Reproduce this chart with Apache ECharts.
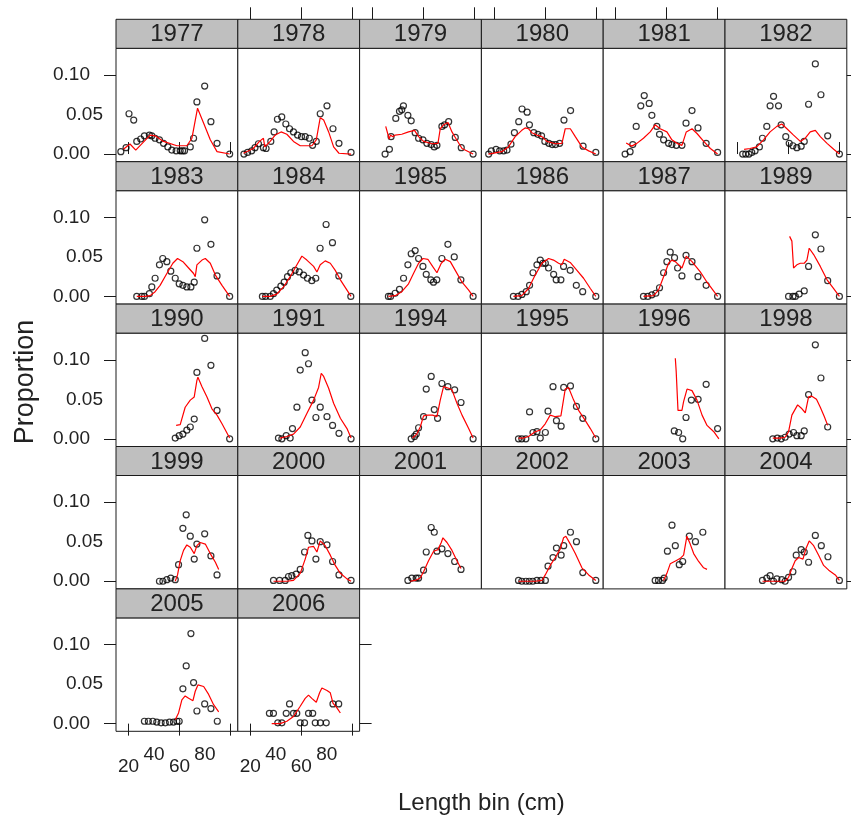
<!DOCTYPE html>
<html><head><meta charset="utf-8">
<script src="https://cdn.jsdelivr.net/npm/echarts@6/dist/echarts.min.js"></script>
<style>html,body{margin:0;padding:0;background:#fff}#c{width:851px;height:820px}</style>
</head><body><div id="c"></div>
<script>
const years = ['1977','1978','1979','1980','1981','1982','1983','1984','1985','1986','1987','1989','1990','1991','1994','1995','1996','1998','1999','2000','2001','2002','2003','2004','2005','2006'];

const obs_1977 = [[14,0.003],[18.1,0.008],[20.4,0.051],[24.1,0.043],[26.5,0.016],[29.6,0.019],[32.5,0.023],[36.4,0.024],[38.3,0.023],[40.9,0.020],[44.3,0.018],[47.5,0.0135],[50.9,0.009],[54,0.005],[57.4,0.004],[60.6,0.004],[62.5,0.004],[64,0.004],[68.5,0.009],[71.1,0.020],[73.7,0.066],[79.8,0.086],[84.7,0.041],[89.5,0.0135],[99.4,0]];
const fit_1977 = [[16,0.006],[21.2,0.0127],[25.7,0.005],[37,0.024],[40.9,0.023],[47.5,0.016],[58,0.0105],[65.8,0.0105],[69.8,0.020],[74.2,0.058],[79,0.039],[84.2,0.018],[89.5,0.003],[99.4,0]];
const obs_1978 = [[15,0],[17.9,0.002],[21.1,0.004],[23.7,0.008],[26.4,0.013],[30.3,0.008],[32.4,0.007],[36.1,0.016],[38.7,0.028],[41.3,0.044],[44.7,0.047],[47.9,0.038],[50.8,0.032],[53.9,0.028],[57.1,0.024],[60.2,0.022],[63.1,0.022],[66.3,0.020],[68.9,0.011],[71.8,0.016],[74.9,0.051],[80.2,0.061],[84.9,0.032],[89.6,0.0135],[99.1,0.002]];
const fit_1978 = [[14.6,0.001],[22.4,0.007],[27.2,0.016],[30.3,0.020],[31.4,0.009],[35.6,0.016],[39.5,0.024],[44.2,0.028],[48.7,0.025],[53.9,0.016],[59.2,0.0105],[68.4,0.0105],[71.8,0.018],[74.9,0.046],[77.6,0.043],[81.5,0.028],[85.4,0.009],[89.6,0.001],[99.1,0]];
const obs_1979 = [[30.2,0],[33.6,0.006],[34.9,0.022],[38.6,0.045],[41.5,0.054],[43.3,0.056],[44.6,0.061],[48.1,0.049],[50.7,0.042],[53.8,0.027],[56.5,0.020],[59.9,0.018],[63,0.0135],[66.4,0.012],[68.8,0.009],[70.9,0.011],[74.8,0.035],[76.9,0.037],[80.1,0.041],[85.3,0.021],[90,0.008],[99.3,0]];
const fit_1979 = [[30.7,0.035],[33.4,0.019],[34.4,0.024],[36.3,0.022],[38.1,0.024],[43.3,0.025],[48.6,0.028],[53.3,0.030],[56.5,0.022],[60.4,0.016],[67,0.013],[71.7,0.0135],[73.5,0.032],[76.1,0.037],[79.6,0.040],[82.7,0.028],[85.3,0.021],[90.6,0.007],[99.3,0]];
const obs_1980 = [[15.9,0],[18,0.004],[21.7,0.006],[24.5,0.004],[27.7,0.004],[30.3,0.005],[33.4,0.0125],[36.1,0.027],[39.5,0.041],[42.1,0.057],[46.1,0.053],[47.9,0.037],[51.3,0.027],[54.5,0.025],[57.4,0.023],[60,0.016],[63.1,0.0135],[65.8,0.012],[68.4,0.012],[71.6,0.0135],[75,0.043],[80.2,0.055],[90,0.010],[100,0.002]];
const fit_1980 = [[15.7,0],[26.2,0.003],[31.4,0.009],[36.7,0.022],[41.9,0.030],[44.5,0.033],[47.2,0.032],[49.8,0.027],[53.7,0.024],[57.7,0.022],[61.6,0.016],[68.2,0.013],[73.4,0.0135],[76,0.032],[80,0.032],[83.9,0.022],[89.1,0.009],[94.4,0.004],[100,0]];
const obs_1981 = [[27.4,0],[31.3,0.003],[33.4,0.012],[36.1,0.035],[39.7,0.061],[42.4,0.074],[46.3,0.064],[48.4,0.049],[52.3,0.035],[54.4,0.025],[57.6,0.018],[61.5,0.0135],[64.1,0.012],[67.6,0.011],[72,0.011],[75.2,0.039],[79.9,0.055],[84.6,0.033],[91,0.0135],[100,0.002]];
const fit_1981 = [[28.2,0.014],[32.6,0.010],[36.6,0.0135],[41.8,0.020],[47.1,0.028],[51,0.037],[54.9,0.032],[60.2,0.028],[64.1,0.018],[68.1,0.0135],[72,0.011],[75.4,0.028],[79.9,0.032],[83.8,0.026],[89.1,0.016],[94.3,0.007],[100,0]];
const obs_1982 = [[24.1,0],[26.5,0],[29,0],[31.2,0.002],[33.8,0.004],[37.2,0.009],[39.6,0.020],[43,0.035],[45.6,0.061],[48.3,0.073],[52.2,0.061],[54.3,0.037],[57.9,0.022],[60.6,0.0135],[63.5,0.0105],[66.6,0.008],[70,0.010],[72.4,0.016],[75.8,0.063],[81.1,0.114],[85.5,0.075],[90.8,0.023],[100,0]];
const fit_1982 = [[25.2,0.006],[29.9,0.007],[35.1,0.009],[40.4,0.018],[45.6,0.028],[50.9,0.035],[54.8,0.038],[58.8,0.032],[64,0.024],[69.3,0.016],[73.2,0.020],[77.1,0.028],[81.1,0.030],[85,0.022],[90.3,0.0135],[95.5,0.006],[100,0]];
const obs_1983 = [[26.5,0],[30.4,0],[32.5,0],[36.4,0.0035],[38.3,0.012],[40.9,0.023],[44.3,0.040],[46.9,0.048],[50.1,0.044],[53.2,0.032],[56.7,0.023],[59.8,0.016],[62.7,0.014],[65.8,0.012],[69,0.012],[71.6,0.018],[73.7,0.061],[79.8,0.097],[84.7,0.066],[89.5,0.026],[99.4,0]];
const fit_1983 = [[26.5,0],[33,0],[37,0.001],[40.9,0.006],[44.8,0.014],[50.1,0.029],[54.8,0.042],[58.5,0.048],[62.7,0.044],[67.2,0.036],[71.1,0.029],[72.4,0.025],[73.7,0.040],[77.7,0.046],[80.3,0.048],[84.2,0.042],[88.2,0.027],[93.4,0.014],[99.4,0]];
const obs_1984 = [[29.5,0],[32,0],[35.6,0],[38.2,0.0035],[40.8,0.008],[44,0.013],[46.6,0.018],[49.2,0.025],[51.8,0.030],[55.2,0.033],[58.4,0.031],[61.8,0.027],[64.9,0.023],[68.3,0.020],[71.4,0.023],[74.8,0.061],[79.5,0.091],[84.5,0.068],[89.5,0.026],[98.9,0]];
const fit_1984 = [[29.5,0],[35.6,0],[40.8,0.003],[46.1,0.012],[51.3,0.025],[56.6,0.040],[60.5,0.051],[64.4,0.046],[69.7,0.038],[72.3,0.031],[74.9,0.040],[78.8,0.045],[82.8,0.042],[86.7,0.033],[90.7,0.021],[95.9,0.008],[99.1,0]];
const obs_1985 = [[32.8,0],[34.5,0],[38.1,0.004],[41.5,0.009],[44.7,0.023],[48.1,0.040],[50.7,0.054],[53.8,0.058],[56.5,0.048],[59.9,0.038],[62.5,0.028],[66.1,0.021],[68.2,0.018],[70.8,0.021],[74.8,0.048],[79.5,0.066],[84.5,0.050],[89.7,0.021],[99.3,0]];
const fit_1985 = [[32.8,0],[38.1,0.001],[43.3,0.006],[48.6,0.016],[52.5,0.029],[56.5,0.042],[59.9,0.048],[63.8,0.047],[67.5,0.038],[70.9,0.030],[74.3,0.042],[77.4,0.047],[81.4,0.044],[85.3,0.033],[90.6,0.018],[95.8,0.008],[99.3,0]];
const obs_1986 = [[35.3,0],[39,0],[42,0.0025],[45.4,0.006],[48,0.014],[50.7,0.030],[53.8,0.040],[56.4,0.046],[58.5,0.042],[60.4,0.042],[62.9,0.036],[66.9,0.028],[68.9,0.021],[72.6,0.021],[74.7,0.038],[79.9,0.033],[84.7,0.014],[89.7,0.006],[100,0]];
const fit_1986 = [[35.3,0],[41.9,0.001],[47.2,0.010],[52.4,0.027],[57.7,0.042],[62.9,0.048],[66.8,0.046],[70.8,0.042],[73.4,0.040],[75.2,0.047],[79.9,0.043],[85.2,0.033],[90.4,0.023],[95.7,0.010],[100,0]];
const obs_1987 = [[41.8,0],[45.2,0],[48.4,0.002],[51.5,0.004],[54.4,0.011],[57.6,0.030],[60.2,0.044],[62.8,0.056],[66.2,0.049],[68.6,0.036],[72,0.026],[75.2,0.052],[79.9,0.044],[84.6,0.025],[91,0.014],[100,0]];
const fit_1987 = [[41.8,0],[49.7,0.001],[53.6,0.008],[57.6,0.025],[61.5,0.042],[64.1,0.046],[66.8,0.044],[72,0.036],[75.4,0.051],[79.9,0.044],[86.4,0.031],[91.7,0.018],[100,0]];
const obs_1989 = [[60.1,0],[63.5,0],[65.4,0],[68.4,0.003],[72.4,0.007],[75.8,0.038],[81.1,0.078],[85.5,0.060],[90.8,0.020],[100,0]];
const fit_1989 = [[60.9,0.076],[62.7,0.070],[64,0.036],[66.6,0.040],[69.3,0.042],[72.4,0.042],[74.5,0.046],[76.3,0.061],[79.8,0.053],[85,0.038],[90.3,0.021],[95.5,0.010],[100,0]];
const obs_1990 = [[56.7,0.001],[59.8,0.004],[62.7,0.006],[65.8,0.011],[68.5,0.015],[71.6,0.025],[73.7,0.084],[79.8,0.127],[84.7,0.093],[89.5,0.036],[99.4,0]];
const fit_1990 = [[57.4,0.017],[60.6,0.018],[64.5,0.040],[68.5,0.049],[71.6,0.053],[73.7,0.074],[74.5,0.078],[77.7,0.066],[81.6,0.053],[85.5,0.038],[89.5,0.030],[93.4,0.019],[99.4,0.001]];
const obs_1991 = [[42.1,0.001],[44.8,0],[48.2,0.004],[51.3,0.001],[53.1,0.013],[56.6,0.040],[59.2,0.087],[63.1,0.109],[65.7,0.095],[68.4,0.049],[71.5,0.027],[74.9,0.040],[80.2,0.028],[84.6,0.017],[89.6,0.007],[99.1,0]];
const fit_1991 = [[43.4,0.001],[48.7,0.003],[53.9,0.006],[59.2,0.015],[64.4,0.032],[69.7,0.049],[73.6,0.065],[75.7,0.083],[77.6,0.079],[81.5,0.064],[85.4,0.045],[90.7,0.026],[95.9,0.013],[99.1,0.001]];
const obs_1994 = [[50.7,0],[53.3,0.003],[54.7,0.006],[56.5,0.014],[60.4,0.028],[62.5,0.063],[66.4,0.079],[68.8,0.037],[71.4,0.026],[74.8,0.070],[79.5,0.066],[84.8,0.062],[89.8,0.046],[99.3,0]];
const fit_1994 = [[51.7,0.001],[55.1,0.006],[57.8,0.015],[60.4,0.029],[63.8,0.030],[67.5,0.030],[70.9,0.028],[73.5,0.049],[76.1,0.066],[80.1,0.064],[82.7,0.062],[86.6,0.045],[90.6,0.030],[95.8,0.013],[99.3,0.001]];
const obs_1995 = [[39.3,0],[41.9,0],[45.1,0],[48,0.034],[50.7,0.008],[53.8,0.009],[56.4,0.001],[60.4,0.008],[62.5,0.035],[66.4,0.066],[69.1,0.023],[72.8,0.016],[74.8,0.065],[80.1,0.067],[84.8,0.041],[89.8,0.026],[100,0]];
const fit_1995 = [[39.3,0.001],[43.2,0.001],[47.2,0.003],[52.4,0.009],[56.3,0.011],[60.3,0.019],[64.2,0.030],[68.2,0.028],[72.6,0.029],[76,0.063],[78.6,0.065],[82.6,0.049],[86.5,0.036],[91.8,0.023],[95.7,0.013],[100,0.001]];
const obs_1996 = [[66,0.010],[69.4,0.008],[72.6,0],[75.2,0.027],[79.4,0.049],[84.7,0.050],[91,0.069],[100,0.013]];
const fit_1996 = [[66.8,0.102],[67.5,0.085],[68.9,0.036],[72,0.036],[73.3,0.047],[76,0.063],[79.9,0.061],[83.8,0.049],[87.8,0.030],[91.7,0.017],[97,0.009],[101,0]];
const obs_1998 = [[47.7,0],[51.3,0.001],[54.3,0],[57.4,0.002],[60.6,0.006],[64,0.008],[66.6,0.004],[70,0.004],[72.4,0.010],[75.8,0.056],[81.1,0.119],[85.5,0.077],[90.8,0.015]];
const fit_1998 = [[47.7,0.001],[53.5,0.001],[57.4,0.002],[60.1,0.009],[62.7,0.030],[67.2,0.043],[70.6,0.038],[73.2,0.033],[75.8,0.053],[78.4,0.054],[82,0.050],[85,0.040],[88.2,0.028],[90.8,0.017]];
const obs_1999 = [[44.3,0],[47,0],[50.1,0.002],[53.2,0.004],[56.7,0.002],[59.3,0.021],[62.7,0.067],[65.3,0.084],[68.5,0.057],[71.6,0.028],[73.7,0.047],[79.8,0.060],[84.7,0.032],[89.5,0.008]];
const fit_1999 = [[56.7,0],[58.5,0.008],[60.6,0.026],[63.2,0.039],[65.8,0.046],[68.5,0.043],[71.6,0.035],[73.7,0.045],[76.3,0.049],[80.3,0.047],[84.2,0.035],[88.2,0.024],[90.8,0.015]];
const obs_2000 = [[38.2,0.001],[43,0.001],[47.4,0.001],[50,0.006],[52.6,0.007],[56,0.009],[59.2,0.015],[62.6,0.037],[65.2,0.058],[68.4,0.051],[71.5,0.028],[74.9,0.050],[80.2,0.046],[84.6,0.025],[89.6,0.008],[99.1,0.001]];
const fit_2000 = [[38.2,0],[48.7,0],[53.9,0.001],[59.2,0.010],[63.1,0.028],[65.7,0.043],[69.7,0.044],[72.3,0.037],[74.9,0.051],[78.8,0.045],[82.8,0.033],[86.7,0.020],[90.7,0.010],[95.9,0.003],[99.1,0]];
const obs_2001 = [[48.1,0.001],[51.2,0.004],[54.6,0.004],[56.5,0.004],[60.4,0.014],[62.5,0.037],[66.4,0.068],[68.8,0.062],[70.9,0.038],[74.8,0.041],[79.5,0.035],[84.8,0.025],[89.8,0.015]];
const fit_2001 = [[49.9,0],[53.8,0.001],[57.8,0.004],[60.4,0.012],[64.3,0.026],[68.3,0.038],[71.7,0.040],[74.3,0.049],[75.6,0.055],[78.8,0.049],[82.7,0.039],[86.6,0.026],[89.8,0.016]];
const obs_2002 = [[39.3,0.001],[41.9,0],[45.1,0],[47.8,0],[50.5,0],[53.8,0.001],[56.9,0.001],[60.4,0.001],[62.5,0.019],[66.4,0.030],[69.1,0.042],[72.8,0.033],[74.8,0.045],[80.1,0.062],[84.8,0.050],[89.8,0.011],[100,0.001]];
const fit_2002 = [[39.3,0],[52.4,0],[57.7,0.001],[60.3,0.008],[64.2,0.020],[68.2,0.030],[72.1,0.041],[74.7,0.055],[76.5,0.057],[80,0.047],[83.9,0.035],[89.1,0.017],[94.4,0.008],[100,0.001]];
const obs_2003 = [[51,0.001],[53.6,0.001],[56.7,0.001],[58,0.004],[60.6,0.038],[64.2,0.071],[66.8,0.045],[69.9,0.021],[72.6,0.025],[77.8,0.057],[82.6,0.050],[88.4,0.062]];
const fit_2003 = [[57.5,0.001],[60.2,0.010],[62.8,0.022],[67.3,0.026],[70.7,0.029],[73.3,0.033],[74.6,0.045],[75.9,0.057],[78.5,0.047],[81.2,0.035],[85.1,0.025],[89,0.017],[91.7,0.015]];
const obs_2004 = [[39.6,0.001],[43,0.004],[45.6,0.007],[48.3,0],[50.9,0.003],[54.8,0.002],[57.4,0],[60.1,0.005],[63.5,0.012],[66.1,0.033],[70,0.040],[72.4,0.037],[75.8,0.024],[81.1,0.058],[85.8,0.045],[91,0.031],[100,0.001]];
const fit_2004 = [[39.6,0],[52.2,0],[57.4,0],[60.1,0.005],[62.7,0.016],[65.3,0.026],[68,0.030],[71.4,0.028],[73.7,0.041],[76.3,0.051],[79.8,0.045],[83.7,0.033],[87.6,0.020],[91.6,0.014],[96.8,0.008],[100,0.001]];
const obs_2005 = [[32.5,0.003],[35.6,0.003],[39.1,0.003],[42.2,0.002],[45.6,0.001],[48.9,0.001],[52.2,0.002],[55.3,0.002],[58,0.003],[59.8,0.003],[62.7,0.044],[65.3,0.073],[69,0.114],[71.1,0.052],[73.7,0.016],[79.8,0.025],[84.7,0.019],[89.7,0.003]];
const fit_2005 = [[56.7,0.005],[59.3,0.0135],[61.9,0.030],[64.5,0.035],[67.2,0.032],[70.6,0.029],[72.4,0.041],[74.5,0.049],[79,0.047],[82.9,0.037],[86.8,0.024],[90.8,0.015]];
const obs_2006 = [[35,0.013],[38.2,0.013],[41.6,0.001],[44.8,0.001],[48.2,0.013],[50.8,0.025],[53.9,0.013],[56.5,0.013],[59.2,0.001],[62.6,0.001],[65.7,0.013],[69,0.013],[71,0.001],[75,0.001],[79.6,0.001],[84.9,0.025],[89.4,0.025]];
const fit_2006 = [[36.8,0],[43.4,0],[48.7,0.003],[53.9,0.009],[59.2,0.022],[63.1,0.032],[65.7,0.036],[68.3,0.032],[71.8,0.027],[74.4,0.039],[76.2,0.045],[80.2,0.042],[82.8,0.039],[84.9,0.026],[88,0.020],[90.7,0.0135]];

const obsData = [obs_1977,obs_1978,obs_1979,obs_1980,obs_1981,obs_1982,obs_1983,obs_1984,obs_1985,obs_1986,obs_1987,obs_1989,obs_1990,obs_1991,obs_1994,obs_1995,obs_1996,obs_1998,obs_1999,obs_2000,obs_2001,obs_2002,obs_2003,obs_2004,obs_2005,obs_2006];
const fitData = [fit_1977,fit_1978,fit_1979,fit_1980,fit_1981,fit_1982,fit_1983,fit_1984,fit_1985,fit_1986,fit_1987,fit_1989,fit_1990,fit_1991,fit_1994,fit_1995,fit_1996,fit_1998,fit_1999,fit_2000,fit_2001,fit_2002,fit_2003,fit_2004,fit_2005,fit_2006];

const xTicks = [20, 60, 100];
const xLabelsLow = [20, 60];
const xLabelsHigh = [40, 80];
const yTicks = [0, 0.1];
const yLabelsFar = [0, 0.1];
const yLabelsNear = [0.05];

// layout
const xMin = 10.2, xMax = 105.8, yMin = -0.0097, yMax = 0.1338;
const NCOL = 6, L0 = 116, W = 121.8, T0 = 19.3, RH = 142.4, SH = 29, BH = 113.4;
const FONT = '"Liberation Sans", Arial, sans-serif';
const INK = '#222', FRAME = '#1a1a1a';
const lab = {fontFamily: FONT, fontSize: 19, color: INK};

const chart = echarts.init(document.getElementById('c'), null, {renderer: 'canvas'});
const grid = [], xAxis = [], yAxis = [], series = [], graphic = [];
const nRows = Math.ceil(years.length / NCOL);

years.forEach((yr, i) => {
  const col = i % NCOL, row = Math.floor(i / NCOL);
  const left = L0 + col * W, stripTop = T0 + row * RH, top = stripTop + SH;
  const isBottom = row === nRows - 1;
  const isTop = row === 0;
  const isLeft = col === 0;
  const isRight = col === NCOL - 1 || i === years.length - 1;
  grid.push({left, top, width: W, height: BH, show: true, borderColor: FRAME, borderWidth: 1, backgroundColor: '#fff'});
  const baseX = {type: 'value', gridIndex: i, min: xMin, max: xMax, splitLine: {show: false}, axisLine: {show: false}};
  const baseY = {type: 'value', gridIndex: i, min: yMin, max: yMax, splitLine: {show: false}, axisLine: {show: false}};
  const xi = xAxis.length;
  xAxis.push(Object.assign({}, baseX, {position: 'bottom',
    axisTick: {show: isBottom, customValues: xTicks, length: 12, lineStyle: {color: FRAME}},
    axisLabel: Object.assign({show: isBottom, customValues: xLabelsLow, margin: 26}, lab)}));
  if (isBottom) xAxis.push(Object.assign({}, baseX, {position: 'bottom',
    axisTick: {show: false}, axisLabel: Object.assign({show: true, customValues: xLabelsHigh, margin: 14}, lab)}));
  if (isTop) xAxis.push(Object.assign({}, baseX, {position: 'top', offset: SH,
    axisTick: {show: true, customValues: xTicks, length: 12, lineStyle: {color: FRAME}}, axisLabel: {show: false}}));
  const yi = yAxis.length;
  yAxis.push(Object.assign({}, baseY, {position: 'left',
    axisTick: {show: isLeft, customValues: yTicks, length: 12, lineStyle: {color: FRAME}},
    axisLabel: Object.assign({show: isLeft, customValues: yLabelsFar, margin: 26, formatter: v => v.toFixed(2)}, lab)}));
  if (isLeft) yAxis.push(Object.assign({}, baseY, {position: 'left',
    axisTick: {show: false}, axisLabel: Object.assign({show: true, customValues: yLabelsNear, margin: 13, formatter: v => v.toFixed(2)}, lab)}));
  if (isRight) yAxis.push(Object.assign({}, baseY, {position: 'right',
    axisTick: {show: true, customValues: yTicks, length: 12, lineStyle: {color: FRAME}}, axisLabel: {show: false}}));

  series.push({type: 'scatter', xAxisIndex: xi, yAxisIndex: yi, data: obsData[i], symbol: 'circle', symbolSize: 6,
    itemStyle: {color: 'rgba(255,255,255,0)', borderColor: '#000', borderWidth: 1.2}, silent: true, z: 2});
  series.push({type: 'line', xAxisIndex: xi, yAxisIndex: yi, data: fitData[i], showSymbol: false, symbol: 'none',
    lineStyle: {color: '#ff0000', width: 1.2}, silent: true, z: 3});

  graphic.push({type: 'rect', shape: {x: left, y: stripTop, width: W, height: SH},
    style: {fill: '#bfbfbf', stroke: FRAME, lineWidth: 1}, z: 10});
  graphic.push({type: 'text', x: left + W / 2, y: stripTop + SH / 2 + 1,
    style: {text: yr, textAlign: 'center', textVerticalAlign: 'middle', font: '24px ' + FONT, fill: INK}, z: 11});
});

const totalRight = L0 + NCOL * W;
graphic.push({type: 'text', x: (L0 + totalRight) / 2, y: 803,
  style: {text: 'Length bin (cm)', textAlign: 'center', textVerticalAlign: 'middle', font: '24px ' + FONT, fill: INK}});
graphic.push({type: 'text', x: 26, y: 382, rotation: Math.PI / 2,
  style: {text: 'Proportion', textAlign: 'center', textVerticalAlign: 'middle', font: '27px ' + FONT, fill: INK}});

chart.setOption({animation: false, backgroundColor: '#fff', grid, xAxis, yAxis, series, graphic});
</script></body></html>
